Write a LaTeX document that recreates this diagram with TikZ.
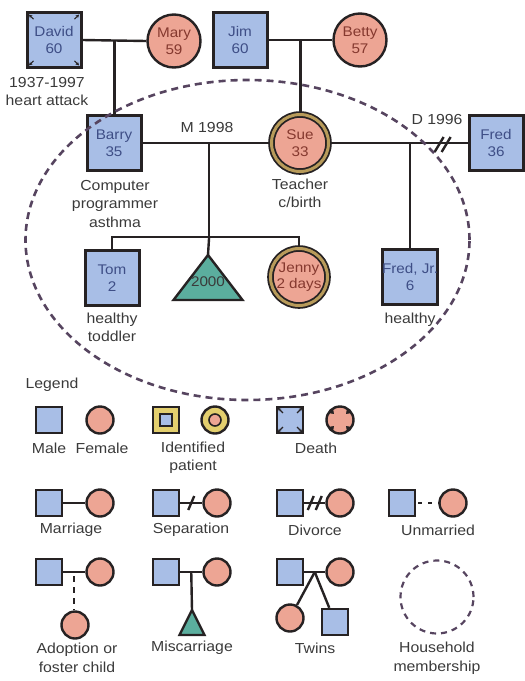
\documentclass[tikz,border=0pt]{standalone}
\usepackage{fontspec}
\setmainfont{Liberation Sans}[FakeStretch=1.09]
\usetikzlibrary{shapes.geometric,backgrounds,arrows.meta,calc}

\definecolor{ink}{HTML}{262223}
\definecolor{maleFill}{HTML}{A8BEE6}
\definecolor{femaleFill}{HTML}{EDA594}
\definecolor{lossFill}{HTML}{5BAE9E}
\definecolor{ipRing}{HTML}{B89B5A}
\definecolor{ipBand}{HTML}{E3CF6E}
\definecolor{maleText}{HTML}{3E4E86}
\definecolor{femaleText}{HTML}{85392F}
\definecolor{noteText}{HTML}{3A3A3A}
\definecolor{houseLine}{HTML}{56445F}

\newcommand\pedfont{\fontsize{14}{16.5}\selectfont}
\newcommand\lblfont{\fontsize{14.5}{18.5}\selectfont}

\tikzset{
  male/.style={rectangle, draw=ink, line width=3pt, fill=maleFill,
    minimum width=54pt, minimum height=55pt, inner sep=0pt, align=center,
    text=maleText, font=\pedfont},
  female/.style={circle, draw=ink, line width=2.4pt, fill=femaleFill,
    minimum size=53pt, inner sep=0pt, align=center, text=femaleText, font=\pedfont},
  patient/.style={female, line width=1.8pt, double=ipRing, double distance=3pt,
    minimum size=57pt},
  losshold/.style={rectangle, minimum width=69pt, minimum height=45pt, inner sep=0pt,
    outer sep=0pt, text=noteText, font=\pedfont, text height=17pt, text depth=0pt},
  note/.style={align=center, text=noteText, font=\lblfont, inner sep=0pt},
  rel/.style={draw=ink, line width=2.4pt},
  lossshape/.style={draw=ink, line width=2.4pt, fill=lossFill, line join=miter},
  lmale/.style={rectangle, draw=ink, line width=2.4pt, fill=maleFill,
    minimum size=26pt, inner sep=0pt},
  lfemale/.style={circle, draw=ink, line width=2.4pt, fill=femaleFill,
    minimum size=27pt, inner sep=0pt},
  lhold/.style={rectangle, minimum size=25pt, inner sep=0pt, outer sep=0pt},
  household/.style={draw=houseLine, line width=2.6pt, dash pattern=on 7pt off 5pt},
  deathmark/.style={draw=ink, line width=1.2pt, -{Stealth[length=3.5pt,width=3.5pt]}},
}

\begin{document}
\begin{tikzpicture}[x=1pt,y=-1pt]
\useasboundingbox (0,0) rectangle (525,681);

% ---------- three generations ----------
\node[male]   (david)  at (54,40)   {David\\60};
\node[female] (mary)   at (174,41)  {Mary\\59};
\node[male]   (jim)    at (240,40)  {Jim\\60};
\node[female] (betty)  at (360,40)  {Betty\\57};

\node[male]    (barry)  at (114,143) {Barry\\35};
\node[patient] (sue)    at (300,143) {Sue\\33};
\node[male]    (fred)   at (496,143) {Fred\\36};

\node[male]     (tom)    at (112,278) {Tom\\2};
\node[losshold] (misc)   at (208,277.5) {2000};
\node[patient]  (jenny)  at (299,277) {Jenny\\2 days};
\node[male]     (fredjr) at (410,277) {Fred, Jr.\\6};

% notes
\node[note] (davidnote) at (47,91.5)  {1937-1997\\heart attack};
\node[note] (barrynote) at (115,204)  {Computer\\programmer\\asthma};
\node[note] (suenote)   at (300,193.5){Teacher\\c/birth};
\node[note] (tomnote)   at (112,327.5){healthy\\toddler};
\node[note] (fjrnote)   at (410,320)  {healthy};
\node[note] (marlabel)  at (207,128)  {M 1998};
\node[note] (divlabel)  at (437,120)  {D 1996};

% death marks on David
\foreach \a in {north west, north east, south west, south east}
  \draw[deathmark] ($(david.center)!0.72!(david.\a)$) -- ($(david.center)!0.88!(david.\a)$);

% household boundary
\node[household, ellipse, minimum width=444pt, minimum height=320pt, inner sep=0pt]
  (house) at (247.5,240) {};

% ---------- legend ----------
\node[note] (legendtitle) at (52,385) {Legend};

\node[lmale]   (lgMale)   at (49,420)  {};
\node[lfemale] (lgFemale) at (100,420) {};
\node[lmale, fill=ipBand] (lgIpSq) at (166,420) {};
\node[rectangle, draw=ink, line width=1.6pt, fill=maleFill, minimum size=12pt, inner sep=0pt]
  (lgIpSqIn) at (lgIpSq.center) {};
\node[lfemale, fill=ipBand] (lgIpCi) at (215,420) {};
\node[circle, draw=ink, line width=1.6pt, fill=femaleFill, minimum size=12pt, inner sep=0pt]
  (lgIpCiIn) at (lgIpCi.center) {};
\node[lmale]   (lgDeathSq) at (290,420) {};
\node[lfemale] (lgDeathCi) at (340,420) {};
\foreach \a in {north west, north east, south west, south east}
  \draw[deathmark] ($(lgDeathSq.center)!0.5!(lgDeathSq.\a)$) -- ($(lgDeathSq.center)!0.86!(lgDeathSq.\a)$);
\foreach \t in {45,135,225,315}
  \fill[ink] ($(lgDeathCi.center)+(\t:8.5)$) -- ($(lgDeathCi.center)+(\t+13:13)$) -- ($(lgDeathCi.center)+(\t-13:13)$) -- cycle;

\node[note] (lbMale)   at (49,448)  {Male};
\node[note] (lbFemale) at (102,448) {Female};
\node[note] (lbIp)     at (193,457.5) {Identified\\patient};
\node[note] (lbDeath)  at (316,448) {Death};

% row 2
\node[lmale]   (marSq) at (49,503)  {};
\node[lfemale] (marCi) at (100,503) {};
\node[lmale]   (sepSq) at (166,503) {};
\node[lfemale] (sepCi) at (217,503) {};
\node[lmale]   (divSq) at (290,503) {};
\node[lfemale] (divCi) at (340,503) {};
\node[lmale]   (unmSq) at (402,503) {};
\node[lfemale] (unmCi) at (453,503) {};
\node[note] (lbMar) at (71,530)  {Marriage};
\node[note] (lbSep) at (191,530) {Separation};
\node[note] (lbDiv) at (315,530) {Divorce};
\node[note] (lbUnm) at (438,530) {Unmarried};

% row 3
\node[lmale]   (adSq)    at (49,572)  {};
\node[lfemale] (adCi)    at (100,572) {};
\node[lfemale] (adChild) at (75,625)  {};
\node[lmale]   (miSq)    at (166,572) {};
\node[lfemale] (miCi)    at (217,572) {};
\node[lhold]   (miLoss)  at (192,622.5) {};
\node[lmale]   (twSq)    at (290,572) {};
\node[lfemale] (twCi)    at (340,572) {};
\node[lfemale] (twGirl)  at (290,618) {};
\node[lmale]   (twBoy)   at (335,622) {};
\node[household, circle, minimum size=73pt, inner sep=0pt, line width=2.2pt,
  dash pattern=on 6pt off 5pt] (lgHouse) at (437,597) {};
\node[note] (lbAd)    at (77,658)  {Adoption or\\foster child};
\node[note] (lbMi)    at (192,648) {Miscarriage};
\node[note] (lbTw)    at (315,648) {Twins};
\node[note] (lbHouse) at (437,658) {Household\\membership};

% ---------- connectors ----------
\begin{scope}[on background layer]
  % parents of Barry and Sue
  \draw[rel] (david.east) -- (mary.west);
  \coordinate (dmKids) at ($(david.east)!0.5!(mary.west)$);
  \draw[rel] (dmKids) -- (dmKids |- barry.north);
  \draw[rel] (jim.east) -- (betty.west);
  \coordinate (jbKids) at ($(jim.east)!0.5!(betty.west)$);
  \draw[rel] (jbKids) -- (jbKids |- sue.north);

  % Barry and Sue, their children
  \draw[rel] (barry.east) -- (sue.west);
  \coordinate (bsKids) at ($(barry.east)!0.52!(sue.west)$);
  \coordinate (sibLine) at ($(bsKids)+(0,94)$);
  \draw[rel] (bsKids) -- (sibLine);
  \draw[rel] (tom.north) -- (tom.north |- sibLine) -- (jenny.north |- sibLine) -- (jenny.north);
  \draw[rel] (sibLine) -- (misc.north);
  \draw[lossshape] (misc.north) -- (misc.south east) -- (misc.south west) -- cycle;

  % Sue and Fred, divorced
  \draw[rel] (sue.east) -- (fred.west);
  \coordinate (sfKid) at (fredjr.north |- sue.east);
  \draw[rel] (sfKid) -- (fredjr.north);
  \coordinate (sfDiv) at ($(sue.east)!0.82!(fred.west)$);
  \draw[rel] ($(sfDiv)+(-8,9)$) -- ($(sfDiv)+(1,-6)$);
  \draw[rel] ($(sfDiv)+(-1,9)$) -- ($(sfDiv)+(8,-6)$);

  % legend relationship lines
  \draw[rel] (marSq.east) -- (marCi.west);
  \draw[rel] (sepSq.east) -- (sepCi.west);
  \coordinate (sepMark) at ($(sepSq.east)!0.5!(sepCi.west)$);
  \draw[rel] ($(sepMark)+(-3,7)$) -- ($(sepMark)+(3,-7)$);
  \draw[rel] (divSq.east) -- (divCi.west);
  \coordinate (divMark) at ($(divSq.east)!0.5!(divCi.west)$);
  \draw[rel] ($(divMark)+(-7,7)$) -- ($(divMark)+(-1,-7)$);
  \draw[rel] ($(divMark)+(1,7)$) -- ($(divMark)+(7,-7)$);
  \draw[rel, dash pattern=on 4pt off 6pt, dash phase=-2pt] (unmSq.east) -- (unmCi.west);

  \draw[rel] (adSq.east) -- (adCi.west);
  \coordinate (adKid) at ($(adSq.east)!0.5!(adCi.west)$);
  \draw[rel, dash pattern=on 6pt off 5pt, dash phase=-4pt] (adKid) -- (adKid |- adChild.north);

  \draw[rel] (miSq.east) -- (miCi.west);
  \coordinate (miKid) at ($(miSq.east)!0.5!(miCi.west)$);
  \draw[rel] (miKid) -- (miLoss.north);
  \draw[lossshape] (miLoss.north) -- (miLoss.south east) -- (miLoss.south west) -- cycle;

  \draw[rel] (twSq.east) -- (twCi.west);
  \coordinate (twKids) at ($(twSq.east)!0.5!(twCi.west)$);
  \draw[rel] (twKids) -- (twGirl);
  \draw[rel] (twKids) -- (twBoy);
\end{scope}
\end{tikzpicture}
\end{document}
